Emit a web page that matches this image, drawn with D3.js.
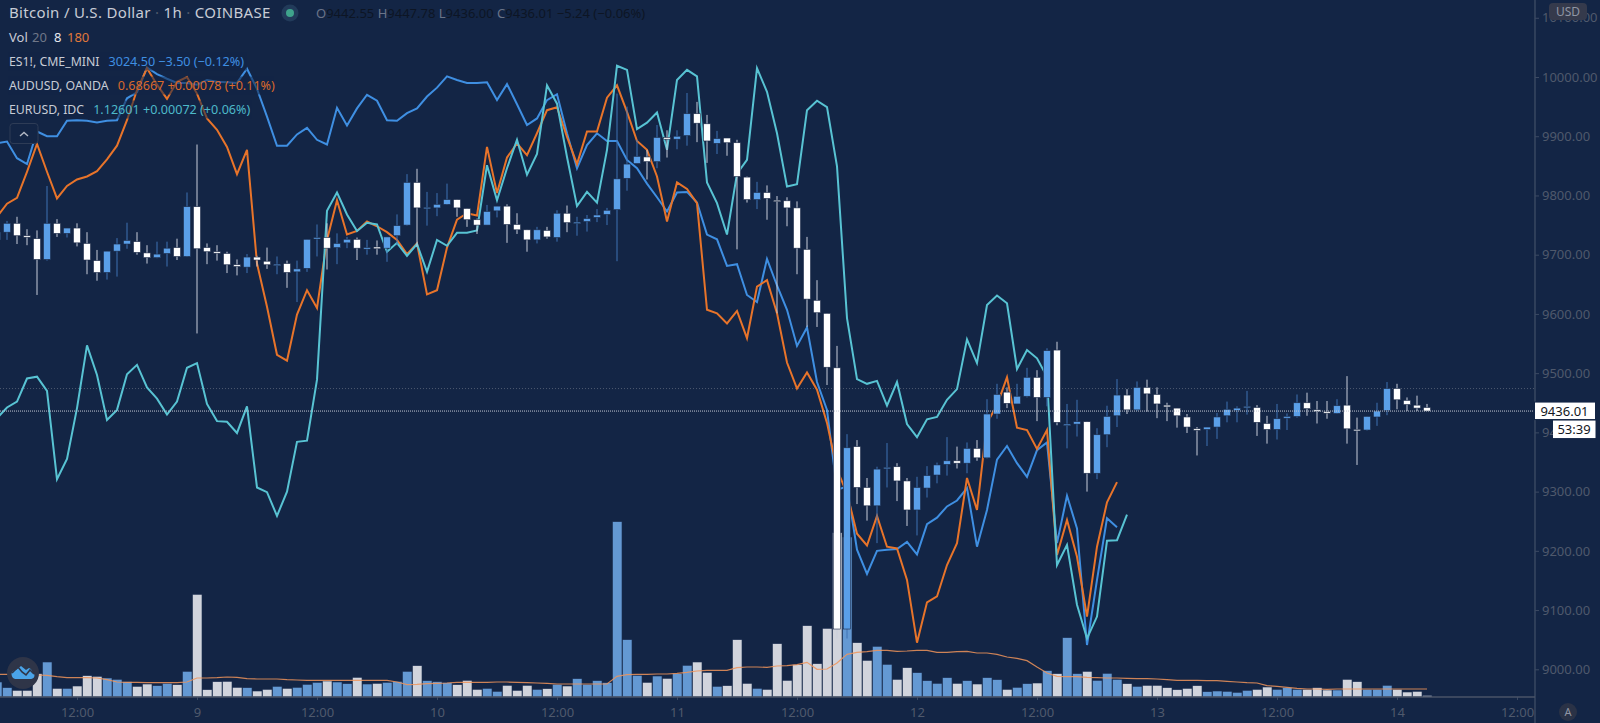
<!DOCTYPE html>
<html>
<head>
<meta charset="utf-8">
<script src="https://cdn.jsdelivr.net/npm/d3@7"></script>
<style>
html,body{margin:0;padding:0;background:#132545;overflow:hidden}
svg{display:block}
text{font-family:"Noto Sans","Open Sans",sans-serif}
</style>
</head>
<body>
<svg id="chart" width="1600" height="723"></svg>
<script>
// hour offset from 9th 00:00 for the first candle
const firstHour = -20;
const opens = [9725,9738,9753,9732,9727,9692,9753,9736,9745,9719,9690,9670,9706,9718,9722,9703,9695,9702,9712,9697,
9781,9712,9705,9702,9683,9679,9696,9689,9683,9685,9671,9677,9727,9729,9712,9720,9726,9711,9713,9711,9732,
9750,9822,9779,9779,9785,9793,9778,9759,9750,9774,9782,9751,9742,9725,9741,9729,9770,9754,9756,9763,9768,9776,9829,9854,9865,9857,9898,9895,9901,9938,9921,9888,9897,9889,9831,9793,9805,9792,9791,9779,9709,9623,9601,
9509,9068,9376,9307,9276,9339,9342,9318,9269,9306,9328,9346,9352,9348,9373,9357,9431,9468,9448,9461,9493,9459,9539,9413,9414,9418,9331,9396,9428,9463,9438,9476,9464,9446,9441,
9426,9406,9405,9409,9428,9437,9442,9442,9415,9405,9424,9427,9450,9438,9435,9432,9446,9405,9404,9426,9437,9474,9454,9446,9442];
const highs = [9745,9757,9764,9743,9741,9816,9760,9745,9753,9738,9708,9706,9728,9754,9738,9716,9722,9722,9727,9805,
9886,9719,9716,9705,9692,9701,9698,9712,9697,9690,9690,9726,9751,9753,9736,9730,9729,9725,9724,9730,9768,
9836,9845,9806,9804,9820,9793,9778,9761,9784,9782,9785,9770,9742,9747,9747,9775,9783,9764,9767,9777,9779,9972,9950,9894,9877,9919,9910,9910,9973,9958,9936,9909,9897,9894,9832,9823,9817,9799,9797,9790,9730,9657,9601,
9546,9397,9387,9323,9342,9382,9348,9323,9325,9343,9349,9392,9376,9383,9387,9456,9482,9476,9482,9509,9505,9542,9553,9448,9455,9418,9407,9445,9490,9473,9486,9489,9476,9450,9441,
9431,9409,9409,9433,9452,9444,9470,9446,9428,9448,9432,9464,9467,9453,9453,9456,9495,9425,9427,9450,9485,9482,9459,9462,9448];
const lows = [9716,9725,9718,9716,9632,9690,9730,9729,9714,9667,9656,9658,9663,9710,9700,9685,9694,9680,9691,9696,
9567,9684,9690,9669,9665,9669,9680,9676,9667,9644,9620,9671,9697,9675,9684,9711,9691,9700,9700,9688,9716,
9749,9714,9749,9765,9784,9764,9747,9735,9750,9763,9720,9735,9705,9719,9727,9722,9738,9732,9739,9755,9750,9689,9808,9854,9827,9846,9864,9878,9884,9890,9855,9870,9867,9709,9788,9777,9759,9601,9748,9667,9578,9578,9480,
9052,9052,9279,9251,9213,9307,9284,9242,9226,9290,9314,9327,9339,9331,9352,9356,9423,9441,9448,9459,9419,9444,9412,9373,9393,9300,9321,9375,9409,9431,9436,9435,9424,9419,9408,
9399,9361,9377,9389,9417,9417,9430,9394,9381,9388,9404,9425,9428,9415,9423,9431,9381,9345,9403,9411,9429,9439,9436,9436,9436];
const closes = [9738,9753,9732,9730,9692,9753,9736,9745,9720,9691,9670,9706,9718,9724,9704,9695,9701,9711,9697,9781,
9710,9705,9703,9683,9680,9696,9691,9683,9684,9670,9676,9726,9729,9711,9719,9726,9711,9712,9710,9730,9749,
9822,9779,9780,9785,9793,9779,9759,9750,9773,9782,9751,9742,9725,9742,9730,9770,9754,9755,9761,9767,9775,9828,9853,9866,9857,9898,9895,9900,9938,9922,9892,9896,9889,9832,9793,9805,9795,9791,9779,9711,9625,9602,9510,
9068,9374,9307,9276,9338,9341,9318,9269,9307,9327,9345,9352,9348,9373,9357,9431,9464,9449,9461,9493,9459,9538,9417,9414,9418,9331,9396,9427,9463,9438,9476,9465,9448,9443,9428,
9409,9405,9409,9426,9439,9441,9444,9417,9405,9423,9427,9450,9440,9435,9433,9445,9406,9404,9427,9436,9474,9455,9447,9441,9436];
const volumes = [360,224,160,160,560,840,208,208,264,512,496,456,424,368,256,312,272,328,296,616,
2464,176,368,376,232,224,144,184,256,208,232,304,352,384,360,320,472,312,328,352,376,616,752,392,368,344,296,400,184,208,136,
280,160,280,184,200,304,264,440,304,392,344,4208,1376,520,352,504,448,560,760,840,592,256,272,1376,328,208,184,1280,400,776,1712,800,1648,3944,3840,1304,880,1216,784,424,704,584,392,328,464,328,392,312,464,416,
184,232,320,336,632,560,1424,560,616,400,568,424,320,256,280,280,224,176,208,272,128,144,136,112,160,184,240,184,224,184,184,224,168,168,424,368,184,184,280,184,120,136,40];
const volumeMA = [544,544,544,536,528,520,488,464,464,464,456,416,360,352,352,344,344,344,344,360,
456,456,464,480,472,440,432,432,432,416,408,400,400,400,400,400,400,400,400,400,360,296,304,320,328,336,352,352,352,352,360,
360,352,344,336,328,312,312,312,312,312,312,496,536,544,544,552,552,568,592,624,640,640,640,704,720,720,712,744,752,776,832,664,672,816,1024,1072,1088,1120,1120,1096,1104,1120,1120,1072,1072,1088,1096,1056,1056,1024,
960,928,872,720,576,496,488,488,472,464,456,456,448,440,440,432,416,400,400,400,392,392,376,360,344,336,272,256,232,208,192,192,184,192,192,192,192,192,192,192,192,192,192];
const es1 = [9888,9891,9863,9853,9908,9900,9900,9926,9927,9926,9923,9926,9927,9964,9974,10016,10005,9997,9990,9990,
9987,9995,9992,9991,9990,10014,9980,9933,9884,9884,9903,9914,9894,9886,9948,9918,9947,9970,9960,9927,9926,
9939,9947,9967,9982,10001,9995,9990,9990,9991,9961,9988,9954,9919,9930,9961,9971,9905,9846,9885,9905,9892,9892,9860,9846,9820,9797,9773,9805,9806,9788,9734,9726,9681,9684,9632,9620,9693,9648,9607,9546,9577,9485,9438,
9303,9309,9202,9161,9200,9202,9203,9215,9194,9245,9256,9275,9285,9306,9207,9269,9354,9377,9348,9325,9370,9383,9213,9293,9238,9041,9151,9255,9240];
const audusd = [9764,9786,9796,9840,9887,9840,9795,9816,9827,9832,9841,9861,9884,9927,9978,10015,9987,9963,9992,10000,
9972,9930,9911,9882,9836,9877,9685,9612,9531,9521,9599,9640,9610,9725,9792,9734,9740,9756,9748,9738,9725,
9701,9719,9633,9640,9712,9759,9770,9766,9882,9804,9864,9888,9868,9905,9944,9949,9899,9853,9908,9908,9965,9986,9941,9892,9877,9832,9756,9822,9811,9787,9607,9601,9584,9605,9559,9646,9657,9601,9518,9474,9501,9472,9416,
9337,9297,9229,9209,9259,9207,9204,9151,9045,9113,9123,9176,9213,9323,9269,9416,9446,9493,9408,9404,9372,9404,9193,9252,9190,9089,9207,9282,9316];
const eurusd = [9424,9442,9452,9491,9494,9470,9321,9355,9441,9547,9497,9421,9438,9498,9514,9476,9457,9430,9452,9509,
9517,9448,9419,9418,9399,9444,9307,9299,9259,9300,9384,9386,9489,9774,9805,9768,9740,9754,9751,9705,9720,
9698,9718,9671,9725,9715,9737,9737,9741,9851,9792,9846,9894,9835,9870,9986,9955,9865,9782,9806,9788,9877,10019,10012,9912,9923,9940,9877,9995,10012,10001,9822,9787,9734,9837,9860,10015,9975,9905,9815,9819,9944,9960,9949,
9849,9593,9490,9482,9487,9445,9485,9414,9392,9422,9426,9455,9473,9557,9517,9615,9631,9618,9507,9539,9525,9494,9176,9210,9109,9052,9089,9217,9218,9261];
const priceTicks = [9000,9100,9200,9300,9400,9500,9600,9700,9800,9900,10000,10100];
const timeTickHours = [-12,0,12,24,36,48,60,72,84,96,108,120,132];
const timeTickLabels = ["12:00","9","12:00","10","12:00","11","12:00","12","12:00","13","12:00","14","12:00"];
const lastPrice = 9436.01;
const prevLevel = 9474;

const W=1600,H=723,plotR=1535,plotB=697;
const BG="#132545";
const svg=d3.select("#chart");
svg.append("rect").attr("width",W).attr("height",H).attr("fill",BG);

const hourToX=d3.scaleLinear().domain([0,132]).range([197,1517]);
const priceToY=d3.scaleLinear().domain([9000,10000]).range([669.3,77]);
const volToY=d3.scaleLinear().domain([0,2400]).range([plotB,plotB-100]);
const hourAt=i=>firstHour+i;

const plot=svg.append("g");
const clipId="plotclip";
svg.append("defs").append("clipPath").attr("id",clipId).append("rect").attr("width",plotR).attr("height",plotB);
plot.attr("clip-path",`url(#${clipId})`);

// dotted level lines
plot.append("line").attr("x1",0).attr("x2",plotR).attr("y1",priceToY(prevLevel)).attr("y2",priceToY(prevLevel))
  .attr("stroke","#4e5a70").attr("stroke-dasharray","1,2");

// volume bars
const BLUEV="#6499d3",WHITEV="#d1d4dc";
plot.append("g").selectAll("rect").data(volumes).join("rect")
  .attr("x",(d,i)=>hourToX(hourAt(i))-4.5).attr("width",9.5)
  .attr("y",d=>volToY(d)).attr("height",d=>plotB-volToY(d))
  .attr("fill",(d,i)=>closes[i]>opens[i]?BLUEV:WHITEV)
  .attr("stroke","#1a2c4e").attr("stroke-width",.6);
// volume MA
plot.append("path").datum(volumeMA)
  .attr("d",d3.line().x((d,i)=>hourToX(hourAt(i))).y(d=>volToY(d)))
  .attr("fill","none").attr("stroke","#f0945a").attr("stroke-opacity",.85).attr("stroke-width",1.2);

// overlay lines
const overlay=[[es1,"#3f8fe2"],[audusd,"#e8742a"],[eurusd,"#58c3d3"]];
const lineGen=d3.line().x((d,i)=>hourToX(hourAt(i))).y(d=>priceToY(d));
plot.append("g").selectAll("path").data(overlay).join("path")
  .attr("d",d=>lineGen(d[0])).attr("fill","none").attr("stroke",d=>d[1]).attr("stroke-width",2).attr("stroke-linejoin","miter");

// candles
const candles=opens.map((o,i)=>({x:hourToX(hourAt(i)),o,h:highs[i],l:lows[i],c:closes[i],up:closes[i]>opens[i]}));
const cg=plot.append("g").selectAll("g").data(candles).join("g");
cg.append("line").attr("x1",d=>d.x).attr("x2",d=>d.x).attr("y1",d=>priceToY(d.h)).attr("y2",d=>priceToY(d.l))
  .attr("stroke",d=>d.up?"#3f72b4":"#c9cedb").attr("stroke-width",1);
cg.append("rect").attr("x",d=>d.x-3.5).attr("width",7)
  .attr("y",d=>priceToY(Math.max(d.o,d.c))).attr("height",d=>Math.max(1.5,Math.abs(priceToY(d.o)-priceToY(d.c))))
  .attr("fill",d=>d.up?"#5a9fe8":"#ffffff").attr("stroke","#1c2a48").attr("stroke-width",.6);

// last price line
plot.append("line").attr("x1",0).attr("x2",plotR).attr("y1",priceToY(lastPrice)).attr("y2",priceToY(lastPrice))
  .attr("stroke","#c3c8d3").attr("stroke-dasharray","1,1");

// axes
const axisColor="#3c4a63",labelColor="#4f596c";
const yAxis=d3.axisRight(priceToY).tickValues(priceTicks).tickFormat(d3.format(".2f")).tickSize(4).tickPadding(3);
const yg=svg.append("g").attr("transform",`translate(${plotR},0)`).call(yAxis);
yg.select(".domain").remove();
yg.selectAll("line").attr("stroke",axisColor);
yg.selectAll("text").attr("fill",labelColor).style("font-size","13px");
svg.append("line").attr("x1",plotR).attr("x2",plotR).attr("y1",0).attr("y2",H).attr("stroke",axisColor).attr("stroke-width",1.4);

const xAxis=d3.axisBottom(hourToX).tickValues(timeTickHours).tickFormat((d,i)=>timeTickLabels[i]).tickSize(3).tickPadding(8);
const xg=svg.append("g").attr("transform",`translate(0,${plotB})`).call(xAxis);
xg.select(".domain").remove();
xg.selectAll("line").attr("stroke",axisColor);
xg.selectAll("text").attr("fill",labelColor).style("font-size","13px");
svg.append("line").attr("x1",0).attr("x2",plotR).attr("y1",plotB).attr("y2",plotB).attr("stroke","#4a5367").attr("stroke-width",1.4);

// price boxes
const yLast=priceToY(lastPrice);
svg.append("rect").attr("x",1534.5).attr("y",yLast-9).attr("width",61).attr("height",17.5).attr("fill","#fff").attr("stroke","#132545");
svg.append("text").attr("x",1564.5).attr("y",yLast+4.5).attr("text-anchor","middle").attr("fill","#131722").style("font-size","13px").text(d3.format(".2f")(lastPrice));
svg.append("rect").attr("x",1553).attr("y",yLast+9.5).attr("width",42.5).attr("height",17.5).attr("fill","#fff");
svg.append("text").attr("x",1574).attr("y",yLast+23).attr("text-anchor","middle").attr("fill","#131722").style("font-size","13px").text("53:39");

// USD badge and auto badge
svg.append("rect").attr("x",1549).attr("y",3).attr("width",38).attr("height",17).attr("rx",4).attr("fill","#353a4c");
svg.append("text").attr("x",1568).attr("y",15.5).attr("text-anchor","middle").attr("fill","#8f95a3").style("font-size","12px").text("USD");
svg.append("circle").attr("cx",1568).attr("cy",712).attr("r",9).attr("fill","#2a3246");
svg.append("text").attr("x",1568).attr("y",716).attr("text-anchor","middle").attr("fill","#8f95a3").style("font-size","11px").text("A");

// legend
const legendRows=[
 {y:66,label:"ES1!, CME_MINI",value:"3024.50  −3.50 (−0.12%)",color:"#3f8fe2",w:237},
 {y:90,label:"AUDUSD, OANDA",value:"0.68667 +0.00078 (+0.11%)",color:"#d9692c",w:264},
 {y:114,label:"EURUSD, IDC",value:"1.12601 +0.00072 (+0.06%)",color:"#4db9c9",w:242}
];
const lg=svg.append("g");
legendRows.forEach(r=>{
  lg.append("rect").attr("x",8).attr("y",r.y-13.5).attr("width",r.w+2).attr("height",18).attr("fill",BG).attr("fill-opacity",.55);
  const t=lg.append("text").attr("x",9).attr("y",r.y).style("font-size","12.3px").attr("fill","#c8ccd6");
  t.append("tspan").text(r.label);
  t.append("tspan").attr("dx",9).attr("fill",r.color).style("font-size","12.6px").text(r.value);
});
const title=lg.append("text").attr("x",9).attr("y",17.5).style("font-size","15px").style("letter-spacing","0.32px").attr("fill","#c8ccd6");
title.append("tspan").text("Bitcoin / U.S. Dollar");
title.append("tspan").attr("fill","#4f596c").text(" · ");
title.append("tspan").text("1h");
title.append("tspan").attr("fill","#4f596c").text(" · ");
title.append("tspan").text("COINBASE");
lg.append("circle").attr("cx",290).attr("cy",13).attr("r",8.5).attr("fill","#223b5a");
lg.append("circle").attr("cx",290).attr("cy",13).attr("r",4).attr("fill","#3fa48c");
const ohlc=lg.append("text").attr("x",316).attr("y",18).style("font-size","13px");
[["O","9442.55"],["H","9447.78"],["L","9436.00"],["C","9436.01"]].forEach(p=>{
  ohlc.append("tspan").attr("fill","#6a7488").text(p[0]);
  ohlc.append("tspan").attr("fill","#0d1524").text(p[1]+" ");
});
ohlc.append("tspan").attr("fill","#0d1524").text("−5.24 (−0.06%)");
const vol=lg.append("text").attr("y",41.5).style("font-size","13px");
vol.append("tspan").attr("x",9).attr("fill","#c8ccd6").text("Vol");
vol.append("tspan").attr("x",32).attr("fill","#6f7788").text("20");
vol.append("tspan").attr("x",54).attr("fill","#e6e8ee").text("8");
vol.append("tspan").attr("x",67).attr("fill","#e0783a").text("180");

// collapse button
lg.append("rect").attr("x",10).attr("y",123.5).attr("width",28).attr("height",20).attr("rx",3).attr("fill",BG).attr("stroke","#2e3c56");
lg.append("path").attr("d",d3.line()([[20,136],[24,132.5],[28,136]])).attr("fill","none").attr("stroke","#b4b9c5").attr("stroke-width",1.4);

// logo
const logo=svg.append("g").attr("transform","translate(23,673)");
logo.append("circle").attr("r",16).attr("fill","#2f3548");
logo.append("path").attr("d","M-10,5 C-13,1 -11,-3 -7,-3 L-2,-7 L3,-3 L6,-5 C9,-4 9,-1 10,0 C13,2 11,6 8,6 L-8,6 Z").attr("fill","#4aa3e8");
logo.append("path").attr("d",d3.line()([[-11,0],[-5,-6],[-1,-1],[3,2],[7,-3],[11,1]])).attr("fill","none").attr("stroke","#2f3548").attr("stroke-width",1.6);
</script>
</body>
</html>
